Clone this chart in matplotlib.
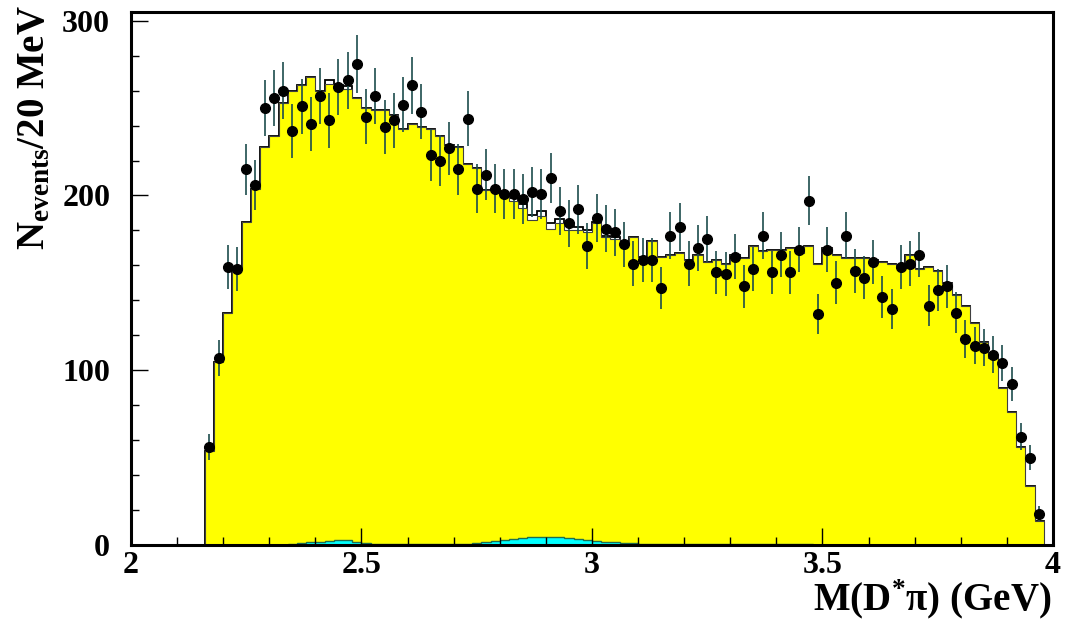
import numpy as np
import matplotlib
matplotlib.use("Agg")
import matplotlib.pyplot as plt

plt.rcParams['font.family'] = ['Liberation Serif', 'DejaVu Serif']
plt.rcParams['font.weight'] = 'bold'
plt.rcParams['mathtext.fontset'] = 'custom'
plt.rcParams['mathtext.rm'] = 'Liberation Serif:bold'
plt.rcParams['mathtext.it'] = 'Liberation Serif:bold'
plt.rcParams['mathtext.bf'] = 'Liberation Serif:bold'

# bins de 20 MeV, de 2.16 a 3.98 GeV
bin_lo = 2.16
bin_w = 0.02
n_bins = 91

# donnees (points noirs)
data = [56, 107, 159, 158, 215, 206, 250, 256, 260, 237,
        251, 241, 257, 243, 262, 266, 275, 245, 257, 239,
        243, 252, 263, 248, 223, 220, 227, 215, 244, 204,
        212, 204, 201, 201, 198, 202, 201, 210, 191, 184,
        192, 171, 187, 181, 179, 172, 161, 163, 163, 147,
        177, 182, 161, 170, 175, 156, 155, 165, 148, 158,
        177, 156, 166, 156, 169, 197, 132, 169, 150, 177,
        157, 153, 162, 142, 135, 159, 161, 166, 137, 146,
        148, 133, 118, 114, 113, 109, 104, 92, 62, 50,
        18]

# MC (jaune)
mc_yellow = [54, 105, 133, 158, 185, 204, 228, 234, 253, 260,
             263, 268, 260, 264, 262, 261, 256, 250, 249, 249,
             246, 238, 241, 239, 238, 234, 229, 228, 218, 216,
             203, 202, 199, 197, 193, 186, 188, 181, 184, 180,
             180, 179, 184, 176, 175, 172, 176, 165, 174, 165,
             166, 167, 163, 166, 162, 163, 161, 166, 164, 171,
             168, 169, 169, 170, 167, 171, 161, 170, 166, 164,
             164, 164, 163, 162, 161, 160, 166, 158, 159, 157,
             150, 143, 137, 127, 116, 107, 90, 76, 56, 34,
             14]

# surplus du total MC au-dessus du jaune
mc_extra = [0, 0, 0, 0, 0, 0, 0, 0, 0, 0,
            0, 0, 0, 2, 1.5, 1.5, 0, 0, 0, 0,
            0, 0, 0, 0, 0, 0, 0, 0, 0, 0,
            0, 0, 1.5, 1.5, 2, 3, 3, 3.5, 2.5, 2.5,
            2, 1.5, 1, 1, 1, 0, 0, 0, 0, 0,
            0, 0, 0, 0, 0, 0, 0, 0, 0, 0,
            0, 0, 0, 0, 0, 0, 0, 0, 0, 0,
            0, 0, 0, 0, 0, 0, 0, 0, 0, 0,
            0, 0, 0, 0, 0, 0, 0, 0, 0, 0,
            0]

# composante cyan (fond)
mc_cyan = [0, 0, 0, 0, 0, 0, 0, 0, 0, 0.5,
           1.0, 1.5, 2.0, 2.5, 3.0, 3.0, 2.0, 1.0, 0.5, 0.3,
           0.3, 0.3, 0.3, 0.3, 0.3, 0.3, 0.3, 0.5, 0.8, 1.2,
           1.8, 2.5, 3.0, 3.5, 4.0, 4.3, 4.5, 4.5, 4.3, 4.0,
           3.5, 3.0, 2.5, 2.0, 1.6, 1.2, 1.0, 0.8, 0.6, 0.5,
           0.5, 0.5, 0.5, 0.5, 0.5, 0.5, 0.5, 0.5, 0.5, 0.5,
           0.5, 0.5, 0.5, 0.5, 0.5, 0.5, 0, 0, 0, 0,
           0, 0, 0, 0, 0, 0, 0, 0, 0, 0,
           0, 0, 0, 0, 0, 0, 0, 0, 0, 0,
           0]

edges = bin_lo + bin_w * np.arange(n_bins + 1)
centers = 0.5 * (edges[:-1] + edges[1:])
data = np.array(data, dtype=float)
mc_yellow = np.array(mc_yellow, dtype=float)
mc_total = mc_yellow + np.array(mc_extra)
mc_cyan = np.array(mc_cyan)

fig = plt.figure(figsize=(10.66, 6.28), dpi=100)
ax = fig.add_axes([131 / 1066, 1 - 545 / 628, 922 / 1066, 533 / 628])

ax.stairs(mc_total, edges, fill=True, color='white', zorder=1)
ax.stairs(mc_total, edges, color='black', lw=1.3, baseline=0, zorder=2)
ax.stairs(mc_yellow, edges, fill=True, color='#ffff00', zorder=3)
ax.stairs(mc_yellow, edges, color='#404040', lw=0.8, zorder=3.5)
ax.stairs(mc_cyan, edges, fill=True, color='#00ffff', zorder=4)
ax.stairs(mc_cyan, edges, color='#1f6f4f', lw=1.0, zorder=4.5)

ax.errorbar(centers, data, yerr=np.sqrt(data), fmt='o', color='black',
            ecolor='#1d4d4d', elinewidth=1.2, markersize=7, capsize=0, zorder=8)

ax.set_xlim(2, 4)
ax.set_ylim(0, 305)
ax.set_xticks([2, 2.5, 3, 3.5, 4])
ax.set_xticklabels(['2', '2.5', '3', '3.5', '4'])
ax.set_xticks(np.arange(2, 4.001, 0.1), minor=True)
ax.set_yticks([0, 100, 200, 300])
ax.set_yticks(np.arange(0, 301, 20), minor=True)

ax.tick_params(axis='both', which='major', direction='in', length=12, width=1.0,
               labelsize=23, top=False, right=False)
ax.tick_params(axis='both', which='minor', direction='in', length=6, width=1.0,
               top=False, right=False)
ax.tick_params(axis='x', pad=4)
ax.tick_params(axis='y', pad=15)
ax.xaxis.set_zorder(6)
ax.yaxis.set_zorder(6)
for lab in ax.get_xticklabels() + ax.get_yticklabels():
    lab.set_fontweight('bold')
for sp in ax.spines.values():
    sp.set_linewidth(2.2)
    sp.set_zorder(10)

fig.text(35 / 1066, 1 - 5 / 628, r'N$_{\rm events}$/20 MeV', rotation=90,
         ha='center', va='top', fontsize=28, fontweight='bold')
fig.text(1051 / 1066, 1 - 621 / 628, r'M(D$^{*}$π) (GeV)', ha='right', va='bottom',
         fontsize=28, fontweight='bold')

fig.savefig('out.png', dpi=100)
